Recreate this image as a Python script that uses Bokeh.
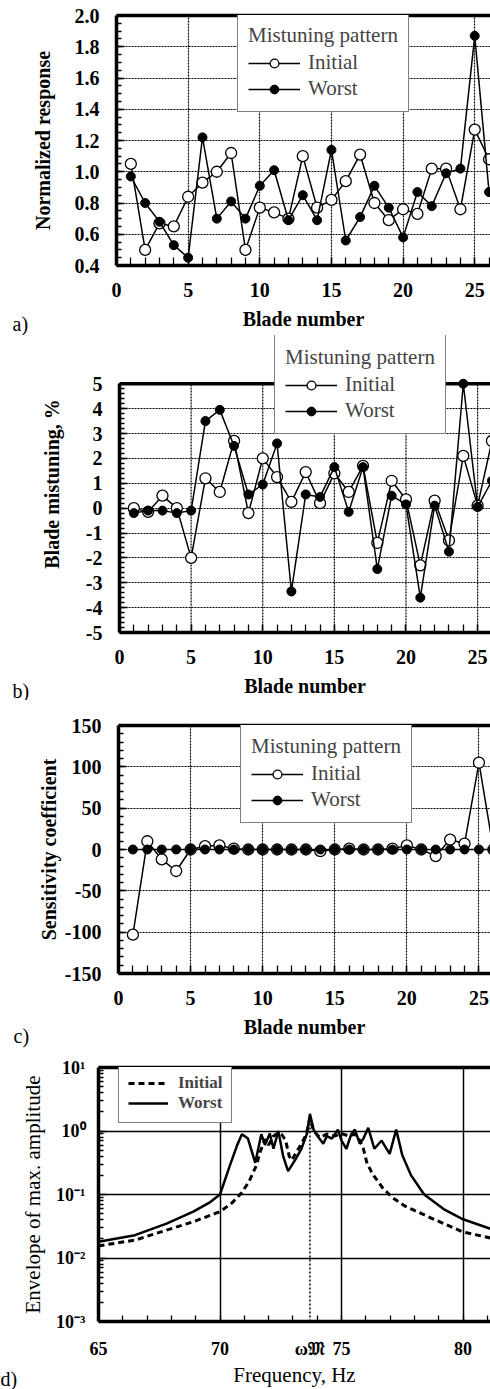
from bokeh.plotting import figure
from bokeh.layouts import column, row
from bokeh.models import (LinearAxis, LogAxis, FixedTicker, Grid, Legend, LegendItem,
                          Label, Range1d, PrintfTickFormatter, Span)
from bokeh.embed import file_html
from bokeh.resources import INLINE

# ---------------- data ----------------
blades = list(range(1, 27))

resp_initial = [1.05, 0.50, 0.67, 0.65, 0.84, 0.93, 1.00, 1.12, 0.50, 0.77, 0.74, 0.70, 1.10,
                0.77, 0.82, 0.94, 1.11, 0.80, 0.69, 0.76, 0.73, 1.02, 1.02, 0.76, 1.27, 1.08]
resp_worst = [0.97, 0.80, 0.68, 0.53, 0.45, 1.22, 0.70, 0.81, 0.70, 0.91, 1.01, 0.69, 0.85,
              0.69, 1.14, 0.56, 0.71, 0.91, 0.77, 0.58, 0.87, 0.78, 0.99, 1.02, 1.87, 0.87]

mist_initial = [0.0, -0.15, 0.5, 0.0, -2.0, 1.2, 0.65, 2.7, -0.2, 2.0, 1.25, 0.25, 1.45,
                0.2, 1.4, 0.65, 1.7, -1.4, 1.1, 0.35, -2.3, 0.3, -1.3, 2.1, 0.1, 2.7]
mist_worst = [-0.2, -0.1, -0.1, -0.2, -0.1, 3.5, 3.95, 2.5, 0.55, 0.95, 2.6, -3.35, 0.55,
              0.45, 1.65, -0.15, 1.65, -2.45, 0.5, 0.15, -3.6, 0.1, -1.75, 5.0, 0.05, 1.1]

sens_initial = [-103, 10, -12, -26, 0, 4, 5, 1, 0, 0, 0, 0, 0,
                -2, 0, 1, 0, 0, 1, 5, 0, -8, 12, 7, 105, 0]
sens_worst = [0, 0, 0, 0, 0, 0, 0, 0, 0, 0, 0, 0, 0,
              0, 0, 0, 0, 0, 0, 0, 0, 0, 0, 0, 0, 0]

freq_initial = [65.0, 66.5, 67.8, 68.9, 70.0, 70.5, 70.9, 71.2, 71.5, 71.65, 71.85, 72.0, 72.2,
                72.4, 72.55, 72.7, 72.85, 72.95, 73.15, 73.35, 73.55, 73.7, 73.85, 74.1, 74.4,
                74.7, 75.0, 75.3, 75.55, 75.75, 75.9, 76.05, 76.3, 76.7, 77.1, 77.6, 78.0, 78.8,
                80.0, 81.2]
env_initial = [0.0155, 0.0191, 0.0275, 0.0372, 0.0537, 0.0741, 0.107, 0.162, 0.288, 0.468,
               0.741, 0.603, 0.832, 0.933, 0.871, 0.708, 0.398, 0.347, 0.468, 0.631, 0.891,
               1.585, 1.0, 0.794, 0.891, 0.832, 0.912, 0.832, 0.891, 0.708, 0.525, 0.309,
               0.204, 0.126, 0.0891, 0.0661, 0.0562, 0.0407, 0.0257, 0.0204]

freq_worst = [65.0, 66.5, 67.8, 68.9, 69.6, 70.0, 70.4, 70.7, 70.9, 71.15, 71.45, 71.7, 71.85,
              72.05, 72.2, 72.4, 72.6, 72.8, 73.1, 73.35, 73.57, 73.7, 73.85, 74.05, 74.25,
              74.4, 74.6, 74.85, 75.0, 75.2, 75.4, 75.55, 75.75, 75.9, 76.1, 76.35, 76.65,
              76.98, 77.25, 77.5, 77.85, 78.4, 79.2, 80.0, 81.2]
env_worst = [0.018, 0.0229, 0.0347, 0.0537, 0.0759, 0.100, 0.282, 0.589, 0.891, 0.759, 0.316,
             0.891, 0.603, 0.912, 0.525, 1.0, 0.398, 0.234, 0.355, 0.525, 0.891, 1.86, 1.05,
             0.794, 0.631, 0.832, 0.759, 1.05, 0.708, 0.525, 0.891, 1.05, 0.631, 0.759, 1.12,
             0.525, 0.708, 0.437, 1.05, 0.417, 0.204, 0.100, 0.0589, 0.0407, 0.0282]

omega_m = 73.7
omega_label = "\u03c9\U0001D510"

blade_ticks = [0, 5, 10, 15, 20, 25]
blade_minor = list(range(0, 27))
resp_ticks = [0.4, 0.6, 0.8, 1.0, 1.2, 1.4, 1.6, 1.8, 2.0]
resp_minor = [round(0.4 + 0.05 * i, 2) for i in range(33)]
mist_ticks = [-5, -4, -3, -2, -1, 0, 1, 2, 3, 4, 5]
mist_minor = [round(-5 + 0.2 * i, 1) for i in range(51)]
sens_ticks = [-150, -100, -50, 0, 50, 100, 150]
sens_minor = [-150 + 10 * i for i in range(31)]
freq_ticks = [65, 70, 75, 80]
freq_minor = list(range(65, 82))
env_ticks = [0.001, 0.01, 0.1, 1, 10]
env_labels = ["10\u207b\u00b3", "10\u207b\u00b2", "10\u207b\u00b9", "10\u2070", "10\u00b9"]
env_minor = [k * m for m in (0.001, 0.01, 0.1, 1) for k in range(2, 10)]

SERIF = "Liberation Serif"


def no_align(p):
    try:
        p.frame_align = False
    except AttributeError:
        pass


def base_fig(width, xr, yr, left, top, frame_h, bottom, y_log=False, top_axis=True):
    p = figure(width=width, height=top + frame_h + bottom, x_range=xr, y_range=yr,
               y_axis_type="log" if y_log else "linear",
               output_backend="svg", toolbar_location=None,
               x_axis_location=None, y_axis_location=None,
               min_border_left=left, min_border_right=0,
               min_border_top=top, min_border_bottom=bottom,
               outline_line_color=None, background_fill_color="white",
               border_fill_color="white")
    p.center = [c for c in p.center if not isinstance(c, Grid)]
    no_align(p)
    if top_axis:
        top_ax = LinearAxis(ticker=FixedTicker(ticks=[]), axis_line_width=3.5,
                            major_tick_in=0, major_tick_out=0, minor_tick_in=0,
                            minor_tick_out=0, major_label_text_font_size="0px",
                            major_label_standoff=0)
        p.add_layout(top_ax, "above")
    return p


def letter_fig(width, height, letter, x, y):
    f = figure(width=width, height=height, x_range=Range1d(0, 1), y_range=Range1d(0, 1),
               output_backend="svg", toolbar_location=None,
               x_axis_location=None, y_axis_location=None,
               min_border=0, outline_line_color=None,
               background_fill_color="white", border_fill_color="white")
    f.center = [c for c in f.center if not isinstance(c, Grid)]
    no_align(f)
    f.add_layout(Label(x=x, y=y, x_units="screen", y_units="screen", text=letter,
                       text_font=SERIF, text_font_size="20px", text_baseline="middle",
                       text_color="black"))
    return f


def style_axis(ax, label, label_size, label_style, tick_size, tick_standoff, label_standoff):
    ax.axis_label = label
    ax.axis_label_text_font = SERIF
    ax.axis_label_text_font_size = label_size
    ax.axis_label_text_font_style = label_style
    ax.axis_label_text_color = "black"
    ax.axis_label_standoff = label_standoff
    ax.major_label_text_font = SERIF
    ax.major_label_text_font_size = tick_size
    ax.major_label_text_font_style = "bold"
    ax.major_label_text_color = "black"
    ax.major_label_standoff = tick_standoff
    ax.axis_line_width = 3.5
    ax.axis_line_color = "black"
    ax.major_tick_in = 8
    ax.major_tick_out = 0
    ax.minor_tick_in = 5
    ax.minor_tick_out = 0
    ax.major_tick_line_width = 1.3
    ax.minor_tick_line_width = 1.3


DOT = dict(line_color="black", line_dash="2 1", line_width=1.2)


def blade_panel(width, ylabel, yi, yw, y_ticks, y_minor, fmt, x_end, left, top, frame_h,
                bottom, leg_xy, ylab_standoff, y_top=None):
    y_end = y_ticks[-1] if y_top is None else y_top
    p = base_fig(width, Range1d(0, x_end), Range1d(y_ticks[0], y_end), left, top, frame_h,
                 bottom, top_axis=(y_top is None))
    if y_top is None:
        p.add_layout(Grid(dimension=0, ticker=FixedTicker(ticks=blade_ticks[1:]),
                          grid_line_color="black", grid_line_dash="2 1", grid_line_width=1.2))
    else:
        n = len(blade_ticks) - 1
        p.segment(x0=blade_ticks[1:], y0=[y_ticks[0]] * n, x1=blade_ticks[1:],
                  y1=[y_ticks[-1]] * n, **DOT)
    p.add_layout(Grid(dimension=1, ticker=FixedTicker(ticks=y_ticks[1:-1]),
                      grid_line_color="black", grid_line_dash="2 1", grid_line_width=1.2))

    xa = LinearAxis(ticker=FixedTicker(ticks=blade_ticks, minor_ticks=blade_minor))
    style_axis(xa, "Blade number", "20px", "bold", "20px", 17, 8)
    xa.minor_tick_in = 8
    p.add_layout(xa, "below")
    ya = LinearAxis(ticker=FixedTicker(ticks=y_ticks, minor_ticks=y_minor),
                    formatter=PrintfTickFormatter(format=fmt),
                    bounds=(y_ticks[0], y_ticks[-1]))
    style_axis(ya, ylabel, "20px", "bold", "20px", 17, ylab_standoff)
    p.add_layout(ya, "left")
    if y_top is not None:
        p.add_layout(Span(location=y_ticks[-1], dimension="width", line_color="black",
                          line_width=3.5))

    li = p.line(blades, yi, line_color="black", line_width=1.5)
    si = p.scatter(blades, yi, size=11, marker="circle", fill_color="white",
                   line_color="black", line_width=1.3)
    lw = p.line(blades, yw, line_color="black", line_width=1.5)
    sw = p.scatter(blades, yw, size=9, marker="circle", fill_color="black", line_color="black")

    leg = Legend(items=[LegendItem(label="Initial", renderers=[li, si]),
                        LegendItem(label="Worst", renderers=[lw, sw])],
                 location=leg_xy, title="Mistuning pattern",
                 title_text_font=SERIF, title_text_font_size="21px",
                 title_text_font_style="normal", title_standoff=2,
                 label_text_font=SERIF, label_text_font_size="21px",
                 glyph_width=52, glyph_height=22, label_height=22, label_standoff=8,
                 spacing=1, padding=10, margin=0,
                 border_line_color="black", border_line_width=1.5,
                 background_fill_color="white", background_fill_alpha=1.0)
    p.add_layout(leg)
    return p


# panel a: page rows 0..335, frame left 114, top 15, bottom 265
la = letter_fig(28, 335, "a)", 12, 12)
pa = blade_panel(462, "Normalized response", resp_initial, resp_worst, resp_ticks, resp_minor,
                 "%.1f", 26.1, 86, 15, 250, 70, (121, 153), 18)
# panel b: page rows 335..700, frame left 119, data frame 383..632 (extended up for the legend)
lb = letter_fig(36, 365, "b)", 12, 10)
pb = blade_panel(454, "Blade mistuning, %", mist_initial, mist_worst, mist_ticks, mist_minor,
                 "%d", 25.9, 83, 0, 297, 68, (155, 198), 20, y_top=6.94)
# panel c: page rows 700..1048, frame left 118, 725..973
lc = letter_fig(34, 348, "c)", 13, 13)
pc = blade_panel(456, "Sensitivity coefficient", sens_initial, sens_worst, sens_ticks,
                 sens_minor, "%d", 25.8, 84, 25, 248, 75, (122, 150), 2)

# ---------------- panel d: page rows 1048..1389, frame left 98, 1067..1322 ----------------
ld = letter_fig(18, 341, "d)", 0, 11)
pd = base_fig(472, Range1d(65, 81.13), Range1d(0.001, 10), 80, 19, 255, 67, y_log=True)
pd.add_layout(Grid(dimension=0, ticker=FixedTicker(ticks=freq_ticks[1:]),
                   grid_line_color="black", grid_line_width=1.5))
pd.add_layout(Grid(dimension=1, ticker=FixedTicker(ticks=env_ticks[1:-1]),
                   grid_line_color="black", grid_line_width=1.5))
xd = LinearAxis(ticker=FixedTicker(ticks=sorted(freq_ticks + [omega_m]), minor_ticks=freq_minor),
                major_label_overrides={omega_m: omega_label})
style_axis(xd, "Frequency, Hz", "21px", "normal", "18px", 17, 1)
xd.major_tick_in = 0
xd.minor_tick_in = 6
pd.add_layout(xd, "below")
yd = LogAxis(ticker=FixedTicker(ticks=env_ticks, minor_ticks=env_minor),
             major_label_overrides={t: s for t, s in zip(env_ticks, env_labels)})
style_axis(yd, "Envelope of max. amplitude", "21px", "normal", "18px", 13, 8)
pd.add_layout(yd, "left")

pd.segment(x0=[omega_m], y0=[env_ticks[0]], x1=[omega_m], y1=[max(env_worst)],
           line_color="black", line_dash="2 2", line_width=1.5)
ld_i = pd.line(freq_initial, env_initial, line_color="black", line_width=3, line_dash="6 4")
ld_w = pd.line(freq_worst, env_worst, line_color="black", line_width=2.5)
legd = Legend(items=[LegendItem(label="Initial", renderers=[ld_i]),
                     LegendItem(label="Worst", renderers=[ld_w])],
              location=(20, 198), label_text_font=SERIF, label_text_font_size="17px",
              label_text_font_style="bold",
              glyph_width=40, glyph_height=20, label_height=20, label_standoff=10,
              spacing=0, padding=9, margin=0,
              border_line_color="black", border_line_width=1.5,
              background_fill_color="white", background_fill_alpha=1.0)
pd.add_layout(legd)

layout = column(row(la, pa), row(lb, pb), row(lc, pc), row(ld, pd))
open("out.html", "w").write(file_html(layout, INLINE))
